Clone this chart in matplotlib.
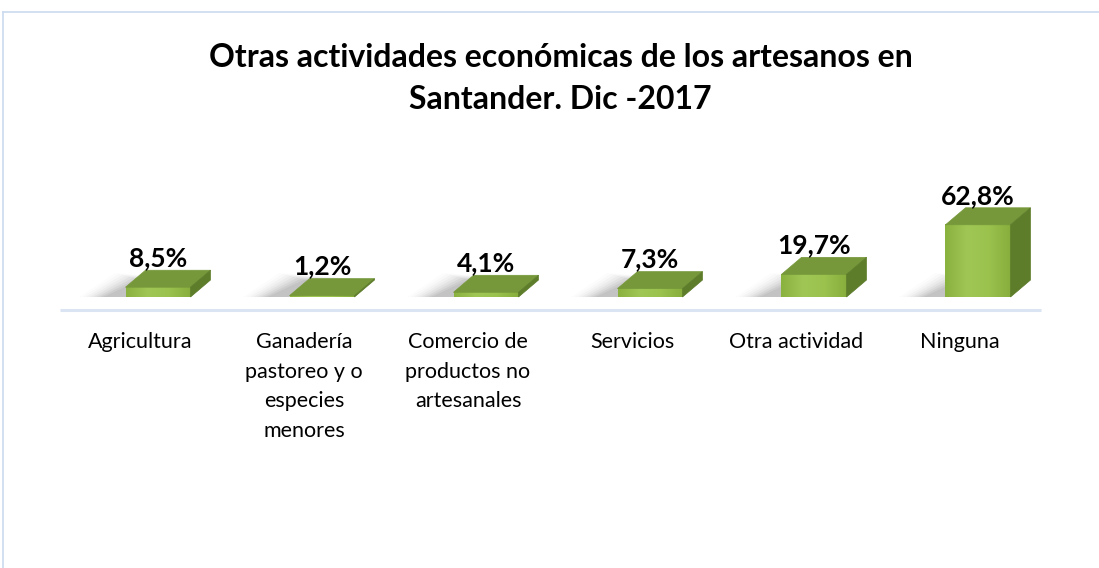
import matplotlib
matplotlib.use("Agg")
import matplotlib.pyplot as plt
from matplotlib.patches import Polygon
from matplotlib.colors import LinearSegmentedColormap
import numpy as np

categories = ["Agricultura", "Ganadería\npastoreo y o\nespecies\nmenores",
              "Comercio de\nproductos no\nartesanales", "Servicios",
              "Otra actividad", "Ninguna"]
values = [8.5, 1.2, 4.1, 7.3, 19.7, 62.8]
value_labels = ["8,5%", "1,2%", "4,1%", "7,3%", "19,7%", "62,8%"]
title = "Otras actividades económicas de los artesanos en\nSantander. Dic -2017"

W, H = 1099, 568
fig = plt.figure(figsize=(W / 100, H / 100), dpi=100)
ax = fig.add_axes([0, 0, 1, 1])

# pixel mapping: category i center at 140 + 164*i ; value 0 at y=297 px, 1.15 px per %
xs, x0 = 164.0, 140.0
ys, y0 = 1.15, 297.0
ax.set_xlim(-x0 / xs, (W - x0) / xs)
ax.set_ylim(-(H - y0) / ys, y0 / ys)
ax.axis("off")

FONT = "Lato"

# frame border (light blue)
fig.add_artist(plt.Line2D([3 / W, 1], [1 - 12 / H, 1 - 12 / H], color="#c9daf0", lw=1.2))
fig.add_artist(plt.Line2D([3 / W, 3 / W], [0, 1 - 12 / H], color="#c9daf0", lw=1.2))

# baseline
ax.plot([(60 - x0) / xs, (1041 - x0) / xs], [-13 / ys, -13 / ys], color="#dae4f2", lw=2.2,
        solid_capstyle="butt", zorder=1)

bw = 65 / xs          # front width
off = 18 / xs         # front center offset
dx = 20 / xs          # depth offset x
dy = 17 / ys          # depth offset y

cmap = LinearSegmentedColormap.from_list("g", ["#8ab23f", "#a0c755", "#9ac24d", "#88ae3d"])

for i, v in enumerate(values):
    xl = i + off - bw / 2
    xr = xl + bw
    hh = max(v, 0.0)
    # soft shadow behind/left
    for k, a in enumerate(np.linspace(0.05, 0.012, 8)):
        grow = k * 3.5 / xs
        sh = Polygon([(xl - 22 / xs - grow, 0), (xr, 0), (xr + dx, dy),
                      (xl + dx - 6 / xs - grow, dy + (k * 1.0) / ys)],
                     closed=True, facecolor="black", alpha=a, lw=0, zorder=2)
        ax.add_patch(sh)
    # front face with horizontal gradient
    grad = np.linspace(0, 1, 64).reshape(1, -1)
    ax.imshow(grad, extent=[xl, xr, 0, hh], aspect="auto", cmap=cmap, zorder=4,
              interpolation="bilinear")
    # top face
    top = Polygon([(xl, hh), (xr, hh), (xr + dx, hh + dy), (xl + dx, hh + dy)],
                  closed=True, facecolor="#76983a", edgecolor="#76983a", lw=0.5, zorder=5)
    ax.add_patch(top)
    # side face
    side = Polygon([(xr, 0), (xr + dx, dy), (xr + dx, hh + dy), (xr, hh)],
                   closed=True, facecolor="#5e7d2b", edgecolor="#5e7d2b", lw=0.5, zorder=5)
    ax.add_patch(side)
    # value label
    ax.text(i + off, hh + dy, value_labels[i], ha="center", va="bottom",
            fontsize=19, fontweight="bold", fontfamily=FONT, color="black", zorder=6)

# category labels
for i, c in enumerate(categories):
    ax.text(i, -35 / ys, c, ha="center", va="top", fontsize=15.5, fontfamily=FONT,
            linespacing=1.6, color="black")

fig.text(0.51, 1 - 43 / H, title, ha="center", va="top", fontsize=23, fontweight="bold",
         fontfamily=FONT, linespacing=1.55)

fig.savefig("out.png", dpi=100, facecolor="white")
